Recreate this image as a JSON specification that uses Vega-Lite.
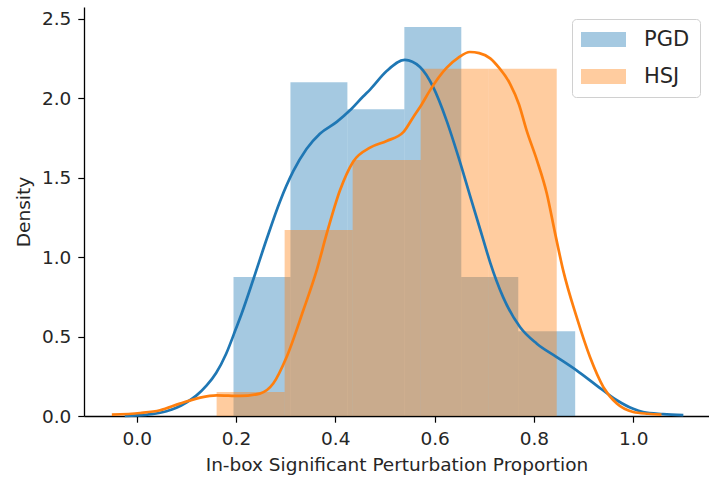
{
  "$schema": "https://vega.github.io/schema/vega-lite/v6.json",
  "autosize": {"type": "none"},
  "padding": {"left": 84, "top": 7, "right": 0, "bottom": 63},
  "width": 625,
  "height": 409,
  "background": "white",
  "config": {
    "view": {"stroke": null},
    "font": "DejaVu Sans",
    "axis": {
      "domainColor": "#000000",
      "domainWidth": 1.3,
      "tickColor": "#000000",
      "tickWidth": 1.2,
      "tickSize": 6.2,
      "labelFont": "DejaVu Sans",
      "labelFontSize": 18.5,
      "labelColor": "#262626",
      "titleFont": "DejaVu Sans",
      "titleFontSize": 18.5,
      "titleFontWeight": "normal",
      "titleColor": "#262626",
      "grid": false
    }
  },
  "datasets": {
    "bars": [
      {"series": "PGD", "x0": 0.195, "x1": 0.3097, "density": 0.874},
      {"series": "PGD", "x0": 0.3097, "x1": 0.4244, "density": 2.10},
      {"series": "PGD", "x0": 0.4244, "x1": 0.5391, "density": 1.93},
      {"series": "PGD", "x0": 0.5391, "x1": 0.6538, "density": 2.447},
      {"series": "PGD", "x0": 0.6538, "x1": 0.7685, "density": 0.874},
      {"series": "PGD", "x0": 0.7685, "x1": 0.8832, "density": 0.533},
      {"series": "HSJ", "x0": 0.161, "x1": 0.298, "density": 0.151},
      {"series": "HSJ", "x0": 0.298, "x1": 0.435, "density": 1.17},
      {"series": "HSJ", "x0": 0.435, "x1": 0.572, "density": 1.61},
      {"series": "HSJ", "x0": 0.572, "x1": 0.709, "density": 2.185},
      {"series": "HSJ", "x0": 0.709, "x1": 0.846, "density": 2.185}
    ],
    "kde": [
      {"series": "PGD", "x": -0.024, "density": 0.001},
      {"series": "PGD", "x": 0.0, "density": 0.004},
      {"series": "PGD", "x": 0.03, "density": 0.012},
      {"series": "PGD", "x": 0.06, "density": 0.03},
      {"series": "PGD", "x": 0.08, "density": 0.052},
      {"series": "PGD", "x": 0.1, "density": 0.085},
      {"series": "PGD", "x": 0.12, "density": 0.128},
      {"series": "PGD", "x": 0.141, "density": 0.192},
      {"series": "PGD", "x": 0.16, "density": 0.27},
      {"series": "PGD", "x": 0.18, "density": 0.39},
      {"series": "PGD", "x": 0.2, "density": 0.55},
      {"series": "PGD", "x": 0.2115, "density": 0.645},
      {"series": "PGD", "x": 0.235, "density": 0.86},
      {"series": "PGD", "x": 0.262, "density": 1.115},
      {"series": "PGD", "x": 0.2886, "density": 1.35},
      {"series": "PGD", "x": 0.3154, "density": 1.54},
      {"series": "PGD", "x": 0.342, "density": 1.68},
      {"series": "PGD", "x": 0.369, "density": 1.776},
      {"series": "PGD", "x": 0.403, "density": 1.85},
      {"series": "PGD", "x": 0.4296, "density": 1.923},
      {"series": "PGD", "x": 0.456, "density": 2.01},
      {"series": "PGD", "x": 0.4705, "density": 2.055},
      {"series": "PGD", "x": 0.5035, "density": 2.17},
      {"series": "PGD", "x": 0.54, "density": 2.24},
      {"series": "PGD", "x": 0.5706, "density": 2.195},
      {"series": "PGD", "x": 0.597, "density": 2.07},
      {"series": "PGD", "x": 0.624, "density": 1.86},
      {"series": "PGD", "x": 0.648, "density": 1.63},
      {"series": "PGD", "x": 0.671, "density": 1.39},
      {"series": "PGD", "x": 0.698, "density": 1.11},
      {"series": "PGD", "x": 0.712, "density": 0.965},
      {"series": "PGD", "x": 0.738, "density": 0.748},
      {"series": "PGD", "x": 0.772, "density": 0.56},
      {"series": "PGD", "x": 0.806, "density": 0.455},
      {"series": "PGD", "x": 0.846, "density": 0.371},
      {"series": "PGD", "x": 0.886, "density": 0.287},
      {"series": "PGD", "x": 0.926, "density": 0.193},
      {"series": "PGD", "x": 0.967, "density": 0.099},
      {"series": "PGD", "x": 1.0, "density": 0.045},
      {"series": "PGD", "x": 1.02, "density": 0.025},
      {"series": "PGD", "x": 1.06, "density": 0.012},
      {"series": "PGD", "x": 1.101, "density": 0.005},
      {"series": "HSJ", "x": -0.05, "density": 0.009},
      {"series": "HSJ", "x": 0.007, "density": 0.019},
      {"series": "HSJ", "x": 0.047, "density": 0.036},
      {"series": "HSJ", "x": 0.087, "density": 0.078},
      {"series": "HSJ", "x": 0.128, "density": 0.116},
      {"series": "HSJ", "x": 0.161, "density": 0.13},
      {"series": "HSJ", "x": 0.208, "density": 0.126},
      {"series": "HSJ", "x": 0.248, "density": 0.141},
      {"series": "HSJ", "x": 0.275, "density": 0.204},
      {"series": "HSJ", "x": 0.302, "density": 0.371},
      {"series": "HSJ", "x": 0.3356, "density": 0.665},
      {"series": "HSJ", "x": 0.3625, "density": 0.916},
      {"series": "HSJ", "x": 0.383, "density": 1.15},
      {"series": "HSJ", "x": 0.4095, "density": 1.42},
      {"series": "HSJ", "x": 0.436, "density": 1.6},
      {"series": "HSJ", "x": 0.47, "density": 1.688},
      {"series": "HSJ", "x": 0.5035, "density": 1.73},
      {"series": "HSJ", "x": 0.537, "density": 1.786},
      {"series": "HSJ", "x": 0.557, "density": 1.88},
      {"series": "HSJ", "x": 0.574, "density": 1.96},
      {"series": "HSJ", "x": 0.591, "density": 2.05},
      {"series": "HSJ", "x": 0.624, "density": 2.19},
      {"series": "HSJ", "x": 0.648, "density": 2.255},
      {"series": "HSJ", "x": 0.671, "density": 2.29},
      {"series": "HSJ", "x": 0.69, "density": 2.283},
      {"series": "HSJ", "x": 0.712, "density": 2.25},
      {"series": "HSJ", "x": 0.73, "density": 2.19},
      {"series": "HSJ", "x": 0.752, "density": 2.09},
      {"series": "HSJ", "x": 0.77, "density": 1.96},
      {"series": "HSJ", "x": 0.785, "density": 1.80},
      {"series": "HSJ", "x": 0.806, "density": 1.61},
      {"series": "HSJ", "x": 0.826, "density": 1.40},
      {"series": "HSJ", "x": 0.842, "density": 1.16},
      {"series": "HSJ", "x": 0.859, "density": 0.916},
      {"series": "HSJ", "x": 0.886, "density": 0.623},
      {"series": "HSJ", "x": 0.913, "density": 0.371},
      {"series": "HSJ", "x": 0.94, "density": 0.182},
      {"series": "HSJ", "x": 0.967, "density": 0.078},
      {"series": "HSJ", "x": 1.0, "density": 0.025},
      {"series": "HSJ", "x": 1.03, "density": 0.014},
      {"series": "HSJ", "x": 1.057, "density": 0.009}
    ]
  },
  "layer": [
    {
      "data": {"name": "bars"},
      "mark": {"type": "rect", "opacity": 0.4, "strokeWidth": 0},
      "encoding": {
        "x": {
          "field": "x0", "type": "quantitative",
          "scale": {"domain": [-0.1061, 1.1527], "nice": false, "zero": false},
          "axis": {
            "values": [0, 0.2, 0.4, 0.6, 0.8, 1.0],
            "format": ".1f",
            "labelPadding": 7,
            "title": "In-box Significant Perturbation Proportion",
            "titlePadding": 8
          }
        },
        "x2": {"field": "x1"},
        "y": {
          "field": "density", "type": "quantitative",
          "scale": {"domain": [0, 2.573], "nice": false, "zero": true},
          "axis": {
            "values": [0, 0.5, 1.0, 1.5, 2.0, 2.5],
            "format": ".1f",
            "labelPadding": 7,
            "title": "Density",
            "titlePadding": 8
          }
        },
        "y2": {"datum": 0},
        "fill": {
          "field": "series", "type": "nominal",
          "scale": {"domain": ["PGD", "HSJ"], "range": ["#1f77b4", "#ff7f0e"]},
          "legend": {
            "title": null,
            "orient": "none",
            "legendX": 488,
            "legendY": 12,
            "fillColor": "white",
            "strokeColor": "#d0d0d0",
            "cornerRadius": 4,
            "padding": 10,
            "symbolType": "M-3,-1H3V1H-3Z",
            "symbolSize": 225,
            "symbolOffset": 11,
            "symbolOpacity": 0.4,
            "symbolStrokeWidth": 0,
            "labelFont": "DejaVu Sans",
            "labelFontSize": 21,
            "labelColor": "#262626",
            "labelOffset": 30,
            "rowPadding": 15
          }
        }
      }
    },
    {
      "data": {"name": "kde"},
      "mark": {"type": "line", "strokeWidth": 2.7, "interpolate": "monotone"},
      "encoding": {
        "x": {"field": "x", "type": "quantitative"},
        "y": {"field": "density", "type": "quantitative"},
        "stroke": {
          "field": "series", "type": "nominal",
          "scale": {"domain": ["PGD", "HSJ"], "range": ["#1f77b4", "#ff7f0e"]},
          "legend": null
        },
        "order": {"field": "x", "type": "quantitative"}
      }
    },
    {
      "mark": {"type": "rule", "color": "#000000", "strokeWidth": 1.3},
      "encoding": {"y": {"datum": 2.573}}
    }
  ]
}
